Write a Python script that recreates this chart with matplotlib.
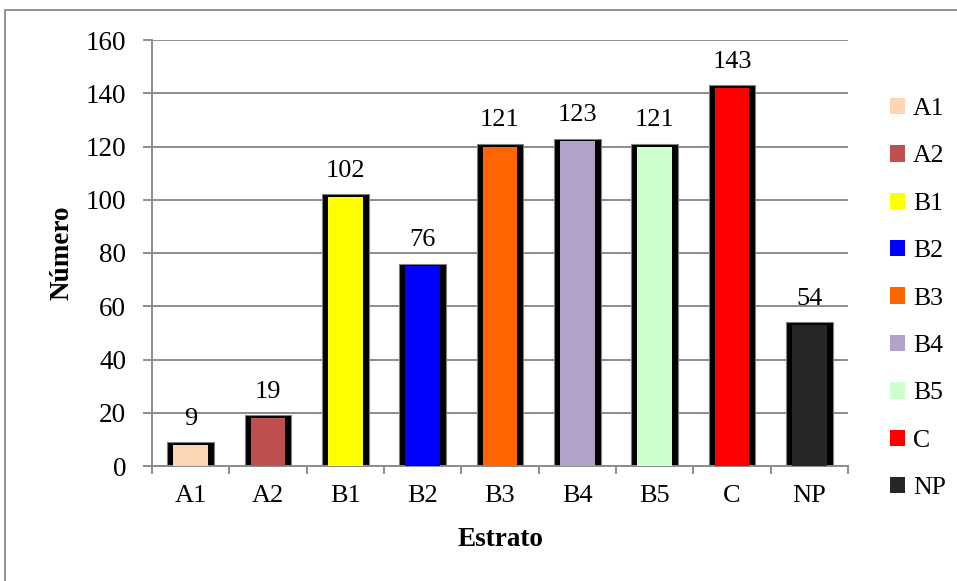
import numpy as np
import matplotlib.pyplot as plt
from matplotlib.patches import Rectangle, Patch

# Number of items per stratum
estratos = ["A1", "A2", "B1", "B2", "B3", "B4", "B5", "C", "NP"]
numeros = [9, 19, 102, 76, 121, 123, 121, 143, 54]
cores = ["#FCD5B5", "#C0504D", "#FFFF00", "#0000FF", "#FF6600",
         "#B3A2C7", "#CCFFCC", "#FF0000", "#262626"]
y_ticks = [0, 20, 40, 60, 80, 100, 120, 140, 160]

plt.rcParams['font.family'] = ['Liberation Serif', 'DejaVu Serif']
grid_gray = "#8c8c8c"

fig = plt.figure(figsize=(9.57, 5.81), dpi=100)
ax = fig.add_axes([152 / 957, 1 - 466 / 581, 696 / 957, 426 / 581])

# outer chart frame
fig.add_artist(Rectangle((5 / 957, -0.1), 1.2, 1.1 - 10 / 581,
                         transform=fig.transFigure, fill=False,
                         ec="#8a8a8a", lw=1.3))

x = np.arange(len(estratos))
vals = np.array(numeros, dtype=float)

# black body (shadow sides) and coloured face on top
ax.bar(x, vals, width=0.6, color="black", edgecolor="#808080",
       linewidth=0.8, zorder=2)
ax.bar(x, vals - 1.0, width=0.45, color=cores, linewidth=0, zorder=3)

for xi, v in zip(x, numeros):
    ax.annotate(str(v), (xi, v), xytext=(0, 9), textcoords="offset points",
                ha="center", va="bottom", fontsize=19)

ax.set_xlim(-0.5, len(estratos) - 0.5)
ax.set_ylim(0, 160)
ax.set_yticks(y_ticks)
ax.set_xticks(x)
ax.set_xticklabels(estratos)
ax.set_xticks(np.arange(-0.5, len(estratos), 1), minor=True)

ax.yaxis.grid(True, color=grid_gray, linewidth=1.4, zorder=0)
ax.set_axisbelow(True)
for side in ["top", "right"]:
    ax.spines[side].set_visible(False)
for side in ["left", "bottom"]:
    ax.spines[side].set_color(grid_gray)
    ax.spines[side].set_linewidth(1.4)

ax.tick_params(axis="y", length=6.5, width=1.4, color=grid_gray,
               labelsize=19.5, pad=12)
ax.tick_params(axis="x", which="major", length=0, labelsize=19, pad=14)
ax.tick_params(axis="x", which="minor", length=6, width=1.4, color=grid_gray)

ax.set_xlabel("Estrato", fontsize=19.5, fontweight="bold")
ax.set_ylabel("Número", fontsize=19.5, fontweight="bold")
ax.xaxis.set_label_coords((500 - 152) / 696, (466 - 540) / 426)
ax.xaxis.label.set_va("center")
ax.yaxis.set_label_coords((62 - 152) / 696, (466 - 253) / 426)
ax.yaxis.label.set_va("center")

handles = [Patch(facecolor=c, label=e) for e, c in zip(estratos, cores)]
fig.legend(handles=handles, loc="center left",
           bbox_to_anchor=(890 / 957, 1 - 298.5 / 581),
           frameon=False, fontsize=18.5, borderpad=0, borderaxespad=0,
           handlelength=0.6, handleheight=0.6, handletextpad=0.3,
           labelspacing=0.98)

fig.savefig("out.png", dpi=100)
